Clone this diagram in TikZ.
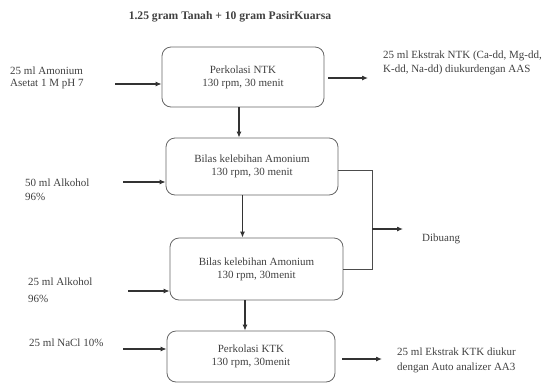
\documentclass[tikz,border=0pt]{standalone}
\usepackage{fontspec}
\setmainfont{Liberation Serif}
\usetikzlibrary{arrows.meta,calc}
\begin{document}
\begin{tikzpicture}[x=1pt,y=-1pt,
  txt/.style={text=black!75, font=\fontsize{11}{12}\selectfont, inner sep=0pt, align=left, anchor=west},
  stepbox/.style={draw=black!60, line width=0.8pt, rounded corners=9pt, align=center,
    text=black!75, font=\fontsize{11}{13}\selectfont, inner sep=0pt},
  arr/.style={draw=black!80, line width=1.1pt, -{Latex[length=6pt,width=5pt]}},
  ln/.style={draw=black!70, line width=0.9pt}]
\useasboundingbox (0,0) rectangle (547,384);

% title
\node[text=black!75, font=\bfseries\fontsize{11.6}{12}\selectfont, inner sep=0pt] (title) at (230,17)
  {1.25 gram Tanah + 10 gram PasirKuarsa};

% process steps
\node[stepbox, minimum width=162pt, minimum height=60pt] (b1) at (243,77)
  {Perkolasi NTK\\130 rpm, 30 menit};
\node[stepbox, minimum width=172pt, minimum height=57pt] (b2) at (252,166.5)
  {Bilas kelebihan Amonium\\130 rpm, 30 menit};
\node[stepbox, minimum width=173pt, minimum height=62pt] (b3) at (256.5,269)
  {Bilas kelebihan Amonium\\130 rpm, 30menit};
\node[stepbox, minimum width=168pt, minimum height=51pt] (b4) at (251,356.5)
  {Perkolasi KTK\\130 rpm, 30menit};

% reagents
\node[txt] (in1) at (10,78) {25 ml Amonium\\[0pt]Asetat 1 M pH 7};
\node[txt] (in2) at (25,190) {50 ml Alkohol\\[2pt]96\%};
\node[txt] (in3) at (28,290.5) {25 ml Alkohol\\[5pt]96\%};
\node[txt] (in4) at (29,343) {25 ml NaCl 10\%};

% outputs
\node[txt] (out1) at (383,63) {25 ml Ekstrak NTK (Ca-dd, Mg-dd,\\[2pt]K-dd, Na-dd) diukurdengan AAS};
\node[txt] (out4) at (397,360.5) {25 ml Ekstrak KTK diukur\\[3pt]dengan Auto analizer AA3};
\node[txt] (dib) at (422,239) {Dibuang};

% main flow
\draw[arr] ([xshift=-4pt]b1.south) -- ([xshift=-4pt]b1.south |- b2.north);
\draw[arr] ([xshift=-9.5pt]b2.south) -- ([xshift=-9.5pt]b2.south |- b3.north);
\draw[arr] ([xshift=-11.5pt]b3.south) -- ([xshift=-11.5pt]b3.south |- b4.north);

% reagent inputs
\coordinate (s1) at (115,84);
\coordinate (s2) at (123,182);
\coordinate (s3) at (128,291);
\coordinate (s4) at (123,349);
\draw[arr] (s1) -- (s1 -| b1.west);
\draw[arr] (s2) -- (s2 -| b2.west);
\draw[arr] (s3) -- (s3 -| b3.west);
\draw[arr] (s4) -- (s4 -| b4.west);

% extracts
\coordinate (e1) at (368,78);
\coordinate (e4) at (382,359);
\draw[arr] ($(b1.east |- e1)+(4,0)$) -- (e1);
\draw[arr] ($(b4.east |- e4)+(7,0)$) -- (e4);

% washings to waste
\coordinate (j1) at (372,170);
\coordinate (j2) at (372,269);
\coordinate (d1) at (372,229);
\coordinate (d2) at (403,229);
\draw[ln] (b2.east |- j1) -- (j1) -- (j2) -- (b3.east |- j2);
\draw[arr] (d1) -- (d2);
\end{tikzpicture}
\end{document}
